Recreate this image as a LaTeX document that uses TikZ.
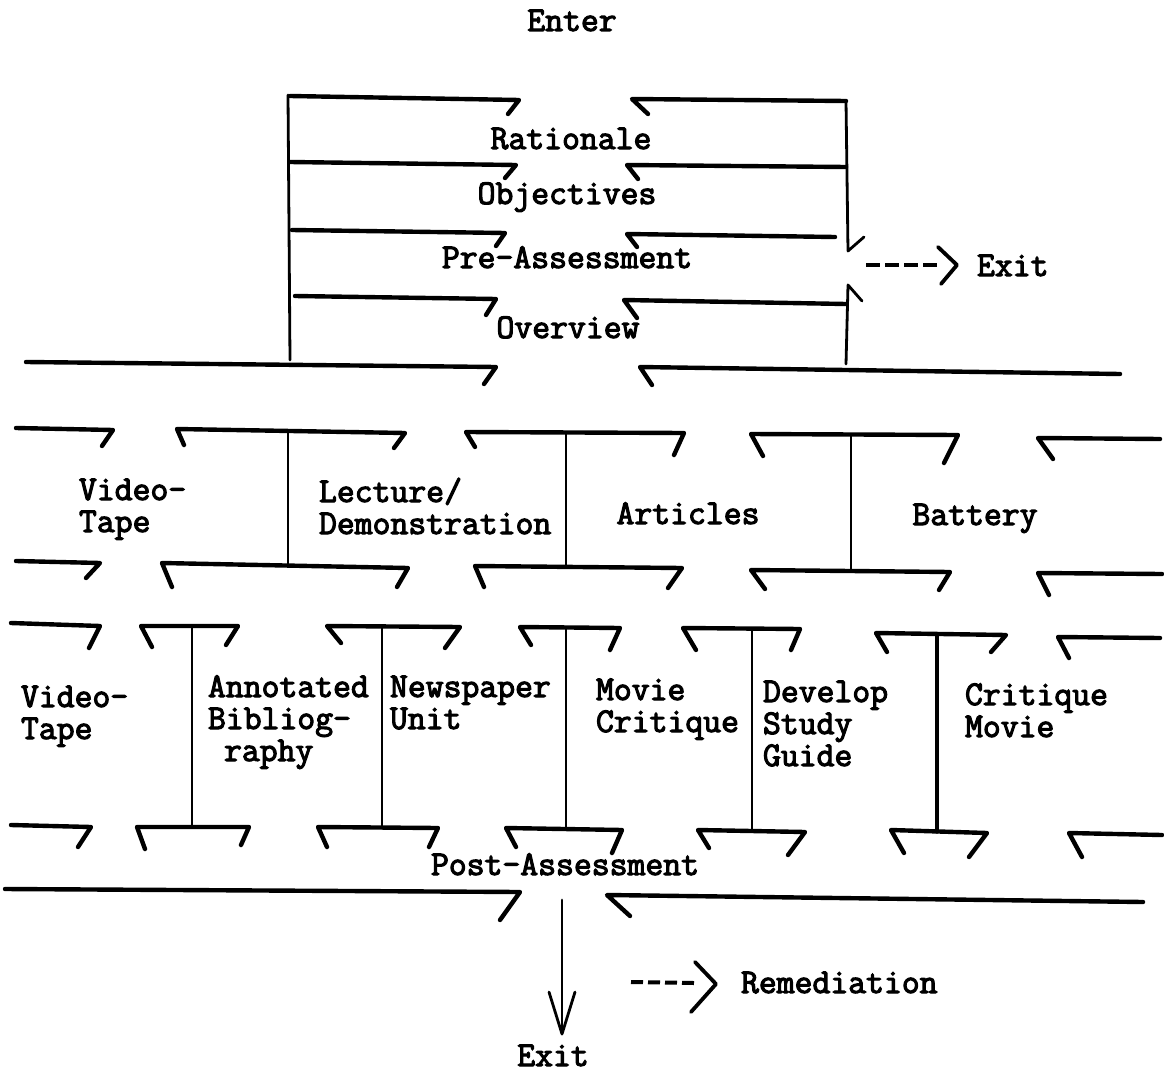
\documentclass[tikz,border=0pt]{standalone}
\usepackage{fontspec}
\newfontfamily\tw{Latin Modern Mono}[FakeBold=3.2]
\begin{document}
\begin{tikzpicture}[x=1pt,y=-1pt,
  hl/.style={line width=4.4pt,line cap=round,line join=round},
  vl/.style={line width=2.8pt,line cap=round,line join=round},
  dsh/.style={line width=4pt,dash pattern=on 14pt off 5pt},
  chev/.style={line width=3.8pt,line cap=round,line join=round},
  txt/.style={font=\tw\fontsize{34.7}{32}\selectfont,inner sep=0pt,outer sep=0pt},
  lbl/.style={txt,align=left,anchor=base west},
  ctr/.style={txt,anchor=base}]
\useasboundingbox (0,0) rectangle (1164,1073);

% ---- entry block ----
\node[ctr] (enter) at (572,31) {Enter};
\node[ctr] (rat) at (571,149) {Rationale};
\node[ctr] (obj) at (567,204) {Objectives};
\node[ctr] (pre) at (567,268) {Pre-Assessment};
\node[ctr] (ovw) at (568,338) {Overview};

\draw[vl] (288,95) -- (290,360);
\draw[vl] (846,101) -- (848,251) -- (864,237);
\draw[vl] (862,301) -- (848,285) -- (846,364);

\draw[hl] (290,96) -- (519,100) -- (508,114);
\draw[hl] (648,114) -- (632,99) -- (846,101);
\draw[hl] (290,162) -- (516,165) -- (505,178);
\draw[hl] (638,179) -- (627,165) -- (846,167);
\draw[hl] (292,230) -- (505,233) -- (496,246);
\draw[hl] (637,247) -- (627,234) -- (835,237);
\draw[hl] (295,296) -- (496,299) -- (486,315);
\draw[hl] (637,318) -- (624,300) -- (846,304);
\draw[hl] (26,362) -- (496,367) -- (484,384);
\draw[hl] (652,385) -- (640,367) -- (1120,374);

% early exit
\coordinate (ex1s) at (866,265);
\coordinate (ex1e) at (941,265);
\node[lbl] (exit1) at (977,276) {Exit};
\draw[dsh] (ex1s) -- (ex1e);
\draw[chev] (938,247) -- (957,265) -- (941,284);

% ---- second row ----
\node[lbl] (vt1) at (79,532) {Video-\\Tape};
\node[lbl] (lec) at (319,534) {Lecture/\\Demonstration};
\node[ctr] (art) at (688,524) {Articles};
\node[ctr] (bat) at (975,525) {Battery};

\draw[hl] (16,428) -- (113,430) -- (102,446);
\draw[hl] (184,445) -- (177,429) -- (405,433) -- (394,448);
\draw[hl] (475,447) -- (466,432) -- (684,433) -- (674,455);
\draw[hl] (763,456) -- (751,434) -- (958,435) -- (944,463);
\draw[hl] (1053,459) -- (1038,438) -- (1160,439);

\draw[vl] (288,432) -- (288,564);
\draw[vl] (566,433) -- (566,566);
\draw[vl] (851,435) -- (851,569);

\draw[hl] (16,561) -- (100,563) -- (86,578);
\draw[hl] (172,587) -- (162,563) -- (408,568) -- (397,587);
\draw[hl] (484,587) -- (475,566) -- (682,568) -- (668,588);
\draw[hl] (765,589) -- (751,570) -- (950,572) -- (939,590);
\draw[hl] (1049,595) -- (1038,573) -- (1162,574);

% ---- third row ----
\node[lbl] (vt2) at (21,739) {Video-\\Tape};
\node[lbl] (ann) at (208,761) {Annotated\\Bibliog-\\\hspace*{16pt}raphy};
\node[lbl] (news) at (390,729) {Newspaper\\Unit};
\node[lbl] (mov) at (596,732) {Movie\\Critique};
\node[lbl] (dev) at (763,766) {Develop\\Study\\Guide};
\node[lbl] (crit) at (965,737) {Critique\\Movie};

\draw[hl] (11,623) -- (100,626) -- (89,648);
\draw[hl] (152,647) -- (141,626) -- (238,626) -- (226,645);
\draw[hl] (341,643) -- (327,626) -- (460,627) -- (445,648);
\draw[hl] (531,645) -- (520,627) -- (620,628) -- (610,650);
\draw[hl] (696,650) -- (683,628) -- (800,629) -- (791,650);
\draw[hl] (887,652) -- (876,633) -- (1006,635) -- (991,652);
\draw[hl] (1069,658) -- (1058,637) -- (1160,638);

\draw[vl] (192,626) -- (192,827);
\draw[vl] (382,627) -- (382,828);
\draw[vl] (566,628) -- (566,829);
\draw[vl] (752,629) -- (752,831);
\draw[vl,line width=3.4pt] (937,634) -- (937,832);

\draw[hl] (11,825) -- (91,827) -- (78,847);
\draw[hl] (145,849) -- (137,827) -- (249,827) -- (241,845);
\draw[hl] (327,847) -- (318,827) -- (438,828) -- (429,847);
\draw[hl] (516,847) -- (506,828) -- (622,830) -- (612,853);
\draw[hl] (709,848) -- (698,830) -- (805,832) -- (788,855);
\draw[hl] (904,853) -- (891,830) -- (987,833) -- (969,857);
\draw[hl] (1082,857) -- (1069,833) -- (1162,835);

% ---- closing block ----
\node[ctr] (post) at (565,875) {Post-Assessment};
\draw[hl] (5,889) -- (520,892) -- (500,920);
\draw[hl] (630,916) -- (607,895) -- (1143,902);

\node[ctr] (exit2) at (553,1066) {Exit};
\coordinate (arrS) at (562,900);
\coordinate (arrE) at (562,1034);
\draw[vl] (arrS) -- (arrE);
\draw[vl] (549,992) -- (arrE) -- (575,992);

\node[lbl] (rem) at (741,993) {Remediation};
\coordinate (remS) at (631,982);
\coordinate (remE) at (694,983);
\draw[dsh,dash pattern=on 12pt off 5pt] (remS) -- (remE);
\draw[chev] (695,962) -- (716,984) -- (691,1012);
\end{tikzpicture}
\end{document}
